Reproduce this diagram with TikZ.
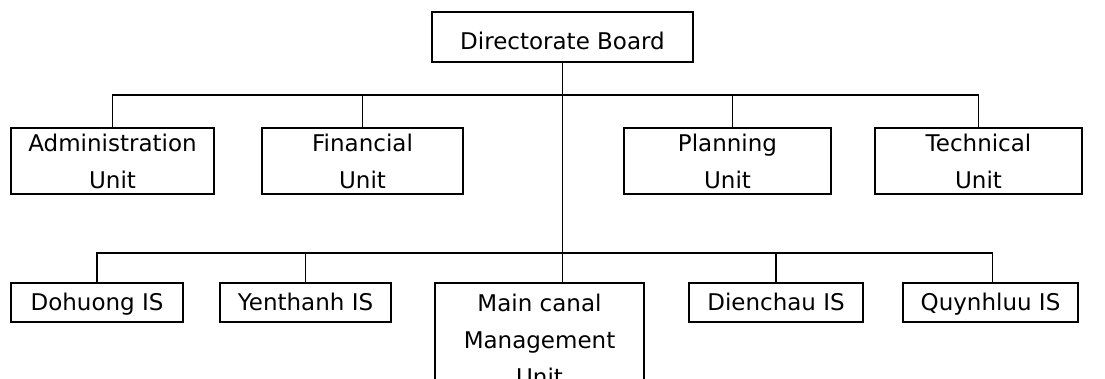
\documentclass[tikz,border=0pt]{standalone}
\usepackage{fontspec}
\setmainfont{DejaVu Sans}
\begin{document}
\begin{tikzpicture}[x=1pt,y=-1pt,
  unitbox/.style={draw=black, line width=1.2pt, fill=white, inner sep=0pt,
    align=center, font=\fontsize{23}{37}\selectfont},
  isbox/.style={unitbox, minimum height=39, text height=20pt, text depth=5pt},
  link/.style={draw=black, line width=1.2pt}]
\useasboundingbox (0,0) rectangle (1105,378);
\clip (0,0) rectangle (1105,378);

% top of the hierarchy
\node[unitbox, minimum width=261, minimum height=50, text height=24pt, text depth=0pt] (board) at (562.5,37) {Directorate Board};

% first level: support units
\node[unitbox, minimum width=203, minimum height=66] (admin) at (112.5,161) {Administration\\Unit};
\node[unitbox, minimum width=201, minimum height=66] (fin)   at (362.5,161) {Financial\\Unit};
\node[unitbox, minimum width=207, minimum height=66] (plan)  at (727.5,161) {Planning\\Unit};
\node[unitbox, minimum width=207, minimum height=66] (tech)  at (978.5,161) {Technical\\Unit};

% second level: irrigation systems and the main canal
\node[isbox, minimum width=172] (doh) at (97,302.5)    {Dohuong IS};
\node[isbox, minimum width=171] (yen) at (305.5,302.5) {Yenthanh IS};
\node[unitbox, minimum width=209, minimum height=114] (main) at (539.5,340) {Main canal\\Management\\Unit};
\node[isbox, minimum width=174] (die) at (776,302.5)   {Dienchau IS};
\node[isbox, minimum width=175] (quy) at (990.5,302.5) {Quynhluu IS};

% bus lines
\coordinate (ubus) at (0,95);
\coordinate (lbus) at (0,253);

% trunk from the board down to the main canal unit
\draw[link] (board.south) -- (board.south |- main.north);

% upper bus and drops
\draw[link] (admin.north) -- (admin.north |- ubus) -- (tech.north |- ubus) -- (tech.north);
\draw[link] (fin.north) -- (fin.north |- ubus);
\draw[link] ([xshift=5pt]plan.north) -- ([xshift=5pt]plan.north |- ubus);

% lower bus and drops
\draw[link] (doh.north) -- (doh.north |- lbus) -- ([xshift=2pt]quy.north |- lbus) -- ([xshift=2pt]quy.north);
\draw[link] (yen.north) -- (yen.north |- lbus);
\draw[link] (die.north) -- (die.north |- lbus);
\end{tikzpicture}
\end{document}
